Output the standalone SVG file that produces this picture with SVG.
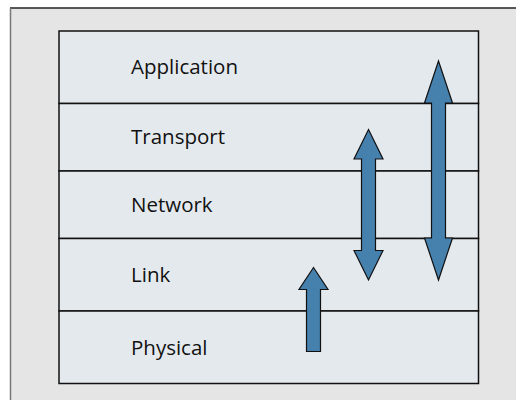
<svg xmlns="http://www.w3.org/2000/svg" width="516" height="400" viewBox="0 0 516 400">
<style>
.lbl{font-family:"Open Sans","Liberation Sans",sans-serif;font-size:20.5px;fill:#111}
.layer{fill:#e4e9ee;stroke:#111;stroke-width:1.5}
.arr{fill:#4680ad;stroke:#111;stroke-width:1.2;stroke-linejoin:miter}
</style>
<rect x="0" y="0" width="516" height="400" fill="#ffffff"/>
<rect x="10" y="8" width="520" height="400" fill="#e5e5e5"/>
<line x1="10" y1="8" x2="516" y2="8" stroke="#222" stroke-width="1.5"/>
<line x1="10.5" y1="8" x2="10.5" y2="400" stroke="#777" stroke-width="1.5"/>
<g id="application"><rect class="layer" x="59" y="31" width="419.5" height="72.5"/><text class="lbl" x="131" y="74">Application</text></g>
<g id="transport"><rect class="layer" x="59" y="103.5" width="419.5" height="67.5"/><text class="lbl" x="131" y="144">Transport</text></g>
<g id="network"><rect class="layer" x="59" y="171" width="419.5" height="67.5"/><text class="lbl" x="131" y="211.5">Network</text></g>
<g id="link"><rect class="layer" x="59" y="238.5" width="419.5" height="72.5"/><text class="lbl" x="131" y="281.5">Link</text></g>
<g id="physical"><rect class="layer" x="59" y="311" width="419.5" height="72.5"/><text class="lbl" x="131" y="354.5">Physical</text></g>
<g id="connectors">
<polygon class="arr" points="438.5,61 452.5,103 445.5,103 445.5,238 452.5,238 438.5,280 424.5,238 431.5,238 431.5,103 424.5,103"/>
<polygon class="arr" points="368.5,129.5 383,159 375.5,159 375.5,250.5 383,250.5 368.5,280 354,250.5 361.5,250.5 361.5,159 354,159"/>
<polygon class="arr" points="313.5,267.5 328,289.5 320.5,289.5 320.5,351.5 306.5,351.5 306.5,289.5 299,289.5"/>
</g>
</svg>
